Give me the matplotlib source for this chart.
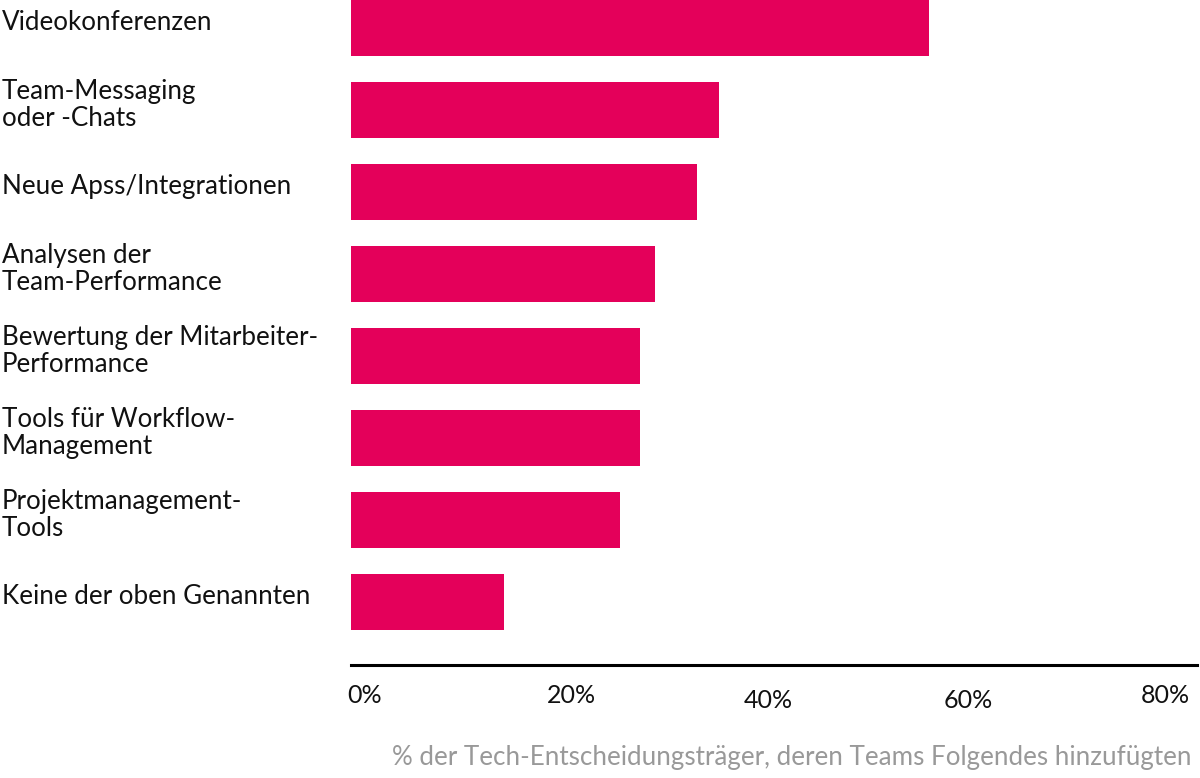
import numpy as np
import matplotlib.pyplot as plt
from matplotlib.transforms import ScaledTranslation

# data
categories = [
    "Videokonferenzen",
    "Team-Messaging\noder -Chats",
    "Neue Apss/Integrationen",
    "Analysen der\nTeam-Performance",
    "Bewertung der Mitarbeiter-\nPerformance",
    "Tools für Workflow-\nManagement",
    "Projektmanagement-\nTools",
    "Keine der oben Genannten",
]
values = [57.8, 36.8, 34.6, 30.4, 28.9, 28.9, 26.9, 15.3]
tick_values = [0, 20, 40, 60, 80]
tick_labels = ["0%", "20%", "40%", "60%", "80%"]
x_label = "% der Tech-Entscheidungsträger, deren Teams Folgendes hinzufügten"

bar_color = "#E4005A"
plt.rcParams['font.family'] = ['Lato', 'DejaVu Sans']

fig = plt.figure(figsize=(12, 7.78), dpi=100)
ax = fig.add_axes([351 / 1200, 113 / 778, 846 / 1200, 665 / 778])

y = np.arange(len(categories))
ax.barh(y, values, height=0.68, color=bar_color)

ax.set_xlim(0, 84.6)
ax.set_ylim(7.77, -0.34)

# y labels left-aligned at the left edge of the figure
ax.set_yticks(y)
ax.set_yticklabels(categories, fontsize=18.7, color="#111111", linespacing=1.1)
ax.tick_params(axis='y', length=0, pad=0)
for lbl in ax.get_yticklabels():
    lbl.set_horizontalalignment('left')
    lbl.set_transform(lbl.get_transform() + ScaledTranslation(-349 / 100, 8 / 100, fig.dpi_scale_trans))

ax.set_xticks(tick_values)
ax.set_xticklabels(tick_labels, fontsize=18, color="#111111")
ax.tick_params(axis='x', length=0, pad=16)
# the original labels sit slightly staggered
x_shift = [-4, -4, -7, -7, -10]
y_shift = [3, 3, -2, -2, 3]
for lbl, dx, dy in zip(ax.get_xticklabels(), x_shift, y_shift):
    lbl.set_horizontalalignment('left')
    lbl.set_transform(lbl.get_transform() + ScaledTranslation(dx / 100, dy / 100, fig.dpi_scale_trans))

for s in ['top', 'right', 'left']:
    ax.spines[s].set_visible(False)
ax.spines['bottom'].set_linewidth(2.2)
ax.spines['bottom'].set_color("#000000")

fig.text(1192 / 1200, 1 - 757 / 778, x_label, ha='right', va='center',
         fontsize=18.7, color="#999999")

fig.savefig("out.png", dpi=100)
